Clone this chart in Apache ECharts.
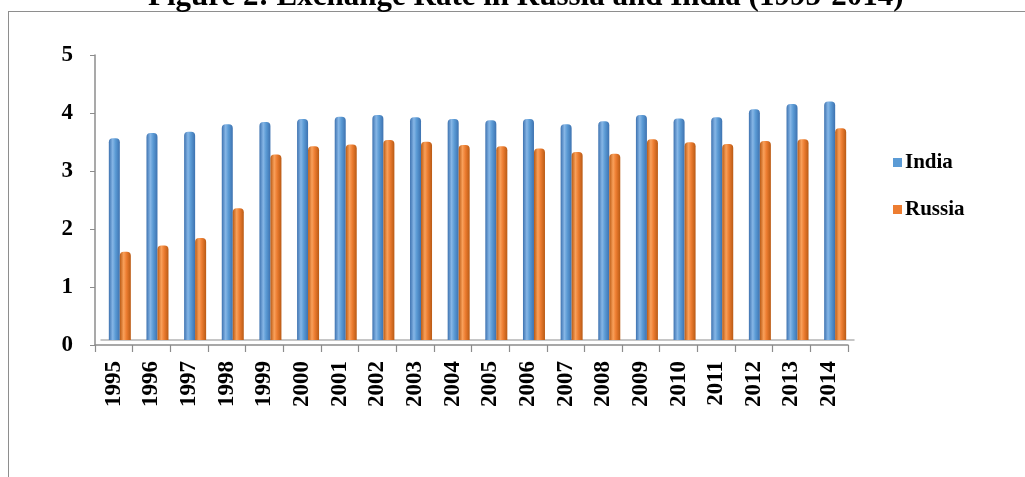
<!DOCTYPE html>
<html>
<head>
<meta charset="utf-8">
<script src="https://cdn.jsdelivr.net/npm/echarts@6/dist/echarts.min.js"></script>
<style>
  html, body { margin: 0; padding: 0; background: #fff; }
  #frame { position: absolute; left: 8px; top: 11px; width: 1100px; height: 600px;
           border-left: 1.5px solid #8e8e8e; border-top: 1.5px solid #8e8e8e; }
  #chart { position: absolute; left: 0; top: 0; width: 1025px; height: 477px; }
</style>
</head>
<body>
<div id="frame"></div>
<div id="chart"></div>
<script>
// Natural log of annual average exchange rates against the US dollar
const years = ['1995','1996','1997','1998','1999','2000','2001','2002','2003','2004',
               '2005','2006','2007','2008','2009','2010','2011','2012','2013','2014'];
const india  = [3.48, 3.57, 3.59, 3.72, 3.76, 3.81, 3.85, 3.88, 3.84, 3.81,
                3.79, 3.81, 3.72, 3.77, 3.88, 3.82, 3.84, 3.98, 4.07, 4.11];
const russia = [1.52, 1.63, 1.76, 2.27, 3.20, 3.34, 3.37, 3.45, 3.42, 3.36,
                3.34, 3.30, 3.24, 3.21, 3.46, 3.41, 3.38, 3.43, 3.46, 3.65];
const yTicks = [0, 1, 2, 3, 4, 5];

const serif = '"Liberation Serif", "Times New Roman", serif';

// horizontal gradient giving the bars a cylindrical look
function cylinder(edge, mid, light) {
  return new echarts.graphic.LinearGradient(0, 0, 1, 0, [
    { offset: 0, color: edge },
    { offset: 0.35, color: light },
    { offset: 0.6, color: mid },
    { offset: 1, color: edge }
  ]);
}

const chart = echarts.init(document.getElementById('chart'), null, { renderer: 'canvas' });
chart.setOption({
  animation: false,
  title: {
    text: 'Figure 2: Exchange Rate in Russia and India (1995-2014)',
    left: 143,
    top: -24,
    textStyle: { fontFamily: serif, fontWeight: 'bold', fontSize: 31, lineHeight: 31, color: '#000' }
  },
  legend: {
    orient: 'vertical',
    left: 888,
    top: 147,
    itemWidth: 9,
    itemHeight: 9,
    itemGap: 26,
    icon: 'rect',
    textStyle: { fontFamily: serif, fontWeight: 'bold', fontSize: 21, color: '#000', padding: [0, 0, 0, -2] },
    data: [
      { name: 'India', itemStyle: { color: '#5b9bd5' } },
      { name: 'Russia', itemStyle: { color: '#ed7d31' } }
    ]
  },
  grid: [
    { left: 95, right: 177, top: 55, bottom: 132 },
    { left: 101, right: 171, top: 50, bottom: 137 }
  ],
  xAxis: [
    {
      gridIndex: 0,
      type: 'category',
      data: years,
      boundaryGap: true,
      axisLine: { lineStyle: { color: '#8c8c8c', width: 1.5 } },
      axisTick: { show: true, length: 7, lineStyle: { color: '#8c8c8c', width: 1.2 } },
      axisLabel: { rotate: 90, interval: 0, margin: 16, fontFamily: serif, fontWeight: 'bold', fontSize: 23, color: '#000' }
    },
    {
      gridIndex: 1,
      type: 'category',
      data: years,
      axisLine: { lineStyle: { color: '#b4b4b4', width: 1.5 } },
      axisTick: { show: false },
      axisLabel: { show: false }
    }
  ],
  yAxis: [
    {
      gridIndex: 0,
      type: 'value',
      min: 0, max: 5, interval: 1,
      axisLine: { show: true, lineStyle: { color: '#8c8c8c', width: 1.5 } },
      axisTick: { show: true, length: 5, lineStyle: { color: '#8c8c8c' } },
      splitLine: { show: false },
      axisLabel: {
        margin: 22, fontFamily: serif, fontWeight: 'bold', fontSize: 23, color: '#000',
        formatter: v => (yTicks.includes(v) ? String(v) : '')
      }
    },
    {
      gridIndex: 1,
      type: 'value',
      min: 0, max: 5, interval: 1,
      axisLine: { show: false },
      axisTick: { show: false },
      axisLabel: { show: false },
      splitLine: { show: false }
    }
  ],
  series: [
    {
      name: 'India',
      type: 'bar',
      xAxisIndex: 1, yAxisIndex: 1,
      data: india,
      barWidth: 11,
      barGap: '0%',
      itemStyle: {
        color: cylinder('#3d72b0', '#5b9bd5', '#86b6e6'),
        borderRadius: [4, 4, 0, 0]
      }
    },
    {
      name: 'Russia',
      type: 'bar',
      xAxisIndex: 1, yAxisIndex: 1,
      data: russia,
      barWidth: 11,
      itemStyle: {
        color: cylinder('#b95a14', '#ed7d31', '#f9a05a'),
        borderRadius: [4, 4, 0, 0]
      }
    }
  ]
});
</script>
</body>
</html>
